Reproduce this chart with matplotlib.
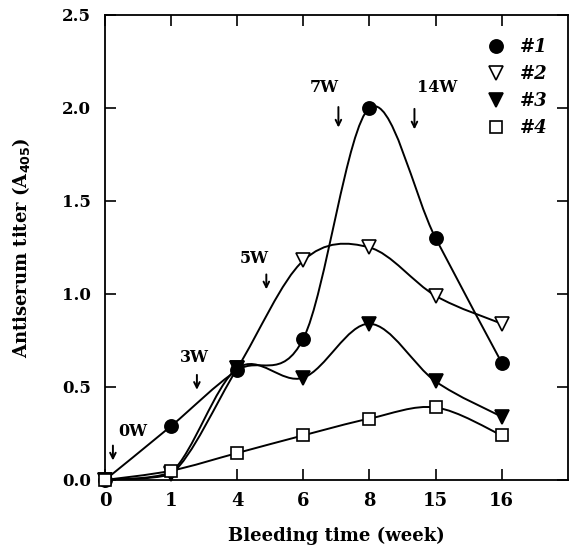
import matplotlib.pyplot as plt
from matplotlib.path import Path
from matplotlib.patches import PathPatch

# 数据
weeks = ['0', '1', '4', '6', '8', '15', '16']
s1 = [0.0, 0.29, 0.59, 0.76, 2.00, 1.30, 0.63]
s2 = [0.0, 0.03, 0.60, 1.18, 1.25, 0.99, 0.84]
s3 = [0.0, 0.04, 0.60, 0.55, 0.84, 0.53, 0.34]
s4 = [0.0, 0.05, 0.145, 0.24, 0.33, 0.39, 0.24]

# 免疫时间标注
boosts = ['0W', '3W', '5W', '7W', '14W']
boost_x = [0.12, 1.39, 2.44, 3.53, 4.68]
boost_top = [0.20, 0.58, 1.12, 2.02, 2.01]
boost_bot = [0.09, 0.47, 1.01, 1.88, 1.87]
label_x = [0.42, 1.36, 2.26, 3.32, 5.02]
label_y = [0.26, 0.656, 1.19, 2.11, 2.11]

plt.rcParams['font.family'] = 'DejaVu Serif'
plt.rcParams['font.weight'] = 'bold'


def smooth_path(xs, ys):
    # Catmull-Rom 曲线转成三次贝塞尔
    pts = list(zip(xs, ys))
    pts = [pts[0]] + pts + [pts[-1]]
    verts = [pts[1]]
    codes = [Path.MOVETO]
    for i in range(1, len(pts) - 2):
        p0, p1, p2, p3 = pts[i - 1], pts[i], pts[i + 1], pts[i + 2]
        c1 = (p1[0] + (p2[0] - p0[0]) / 6, p1[1] + (p2[1] - p0[1]) / 6)
        c2 = (p2[0] - (p3[0] - p1[0]) / 6, p2[1] - (p3[1] - p1[1]) / 6)
        # 避免曲线掉到0以下
        c1 = (c1[0], max(c1[1], 0.0))
        c2 = (c2[0], max(c2[1], 0.0))
        verts += [c1, c2, p2]
        codes += [Path.CURVE4] * 3
    return Path(verts, codes)


fig = plt.figure(figsize=(5.69, 5.54), dpi=100)
ax = fig.add_axes([0.1845, 0.1336, 0.8135, 0.8394])

x = list(range(len(weeks)))
series = [s1, s2, s3, s4]
styles = [
    dict(marker='o', mfc='black', ms=9.5),
    dict(marker='v', mfc='white', ms=9.5),
    dict(marker='v', mfc='black', ms=9.5),
    dict(marker='s', mfc='white', ms=8),
]
names = ['#1', '#2', '#3', '#4']

for ys, st, nm in zip(series, styles, names):
    ax.add_patch(PathPatch(smooth_path(x, ys), fill=False, lw=1.4,
                           ec='black', zorder=2))
    ax.plot(x, ys, ls='none', mec='black', mew=1.2, label=nm,
            clip_on=False, zorder=3, **st)

for bx, top, bot in zip(boost_x, boost_top, boost_bot):
    ax.annotate('', xy=(bx, bot), xytext=(bx, top),
                arrowprops=dict(arrowstyle='->', lw=1.4, color='black'))
for lab, lx, ly in zip(boosts, label_x, label_y):
    ax.text(lx, ly, lab, ha='center', va='center', fontsize=11.5,
            fontweight='heavy')

ax.set_xlim(0, 7)
ax.set_ylim(0, 2.5)
ax.set_xticks(x)
ax.set_xticklabels(weeks)
ax.set_yticks([0, 0.5, 1.0, 1.5, 2.0, 2.5])
ax.set_yticklabels(['0.0', '0.5', '1.0', '1.5', '2.0', '2.5'])
ax.tick_params(direction='in', length=8, width=1.2, top=True, right=True,
               labelsize=12)
ax.tick_params(axis='x', pad=9, labelsize=13)
ax.tick_params(axis='y', pad=10)
for sp in ax.spines.values():
    sp.set_linewidth(1.3)

ax.set_xlabel('Bleeding time (week)', fontsize=13, fontweight='bold',
              labelpad=12)
ax.set_ylabel('Antiserum titer (A$_{\\mathbf{405}}$)', fontsize=13,
              fontweight='bold', labelpad=22)

leg = ax.legend(loc='upper right', bbox_to_anchor=(0.99, 0.985), frameon=False,
                handlelength=1.0, handletextpad=0.8, labelspacing=0.5,
                prop=dict(size=13, weight='bold', style='italic'))

fig.savefig('out.png', dpi=100)
